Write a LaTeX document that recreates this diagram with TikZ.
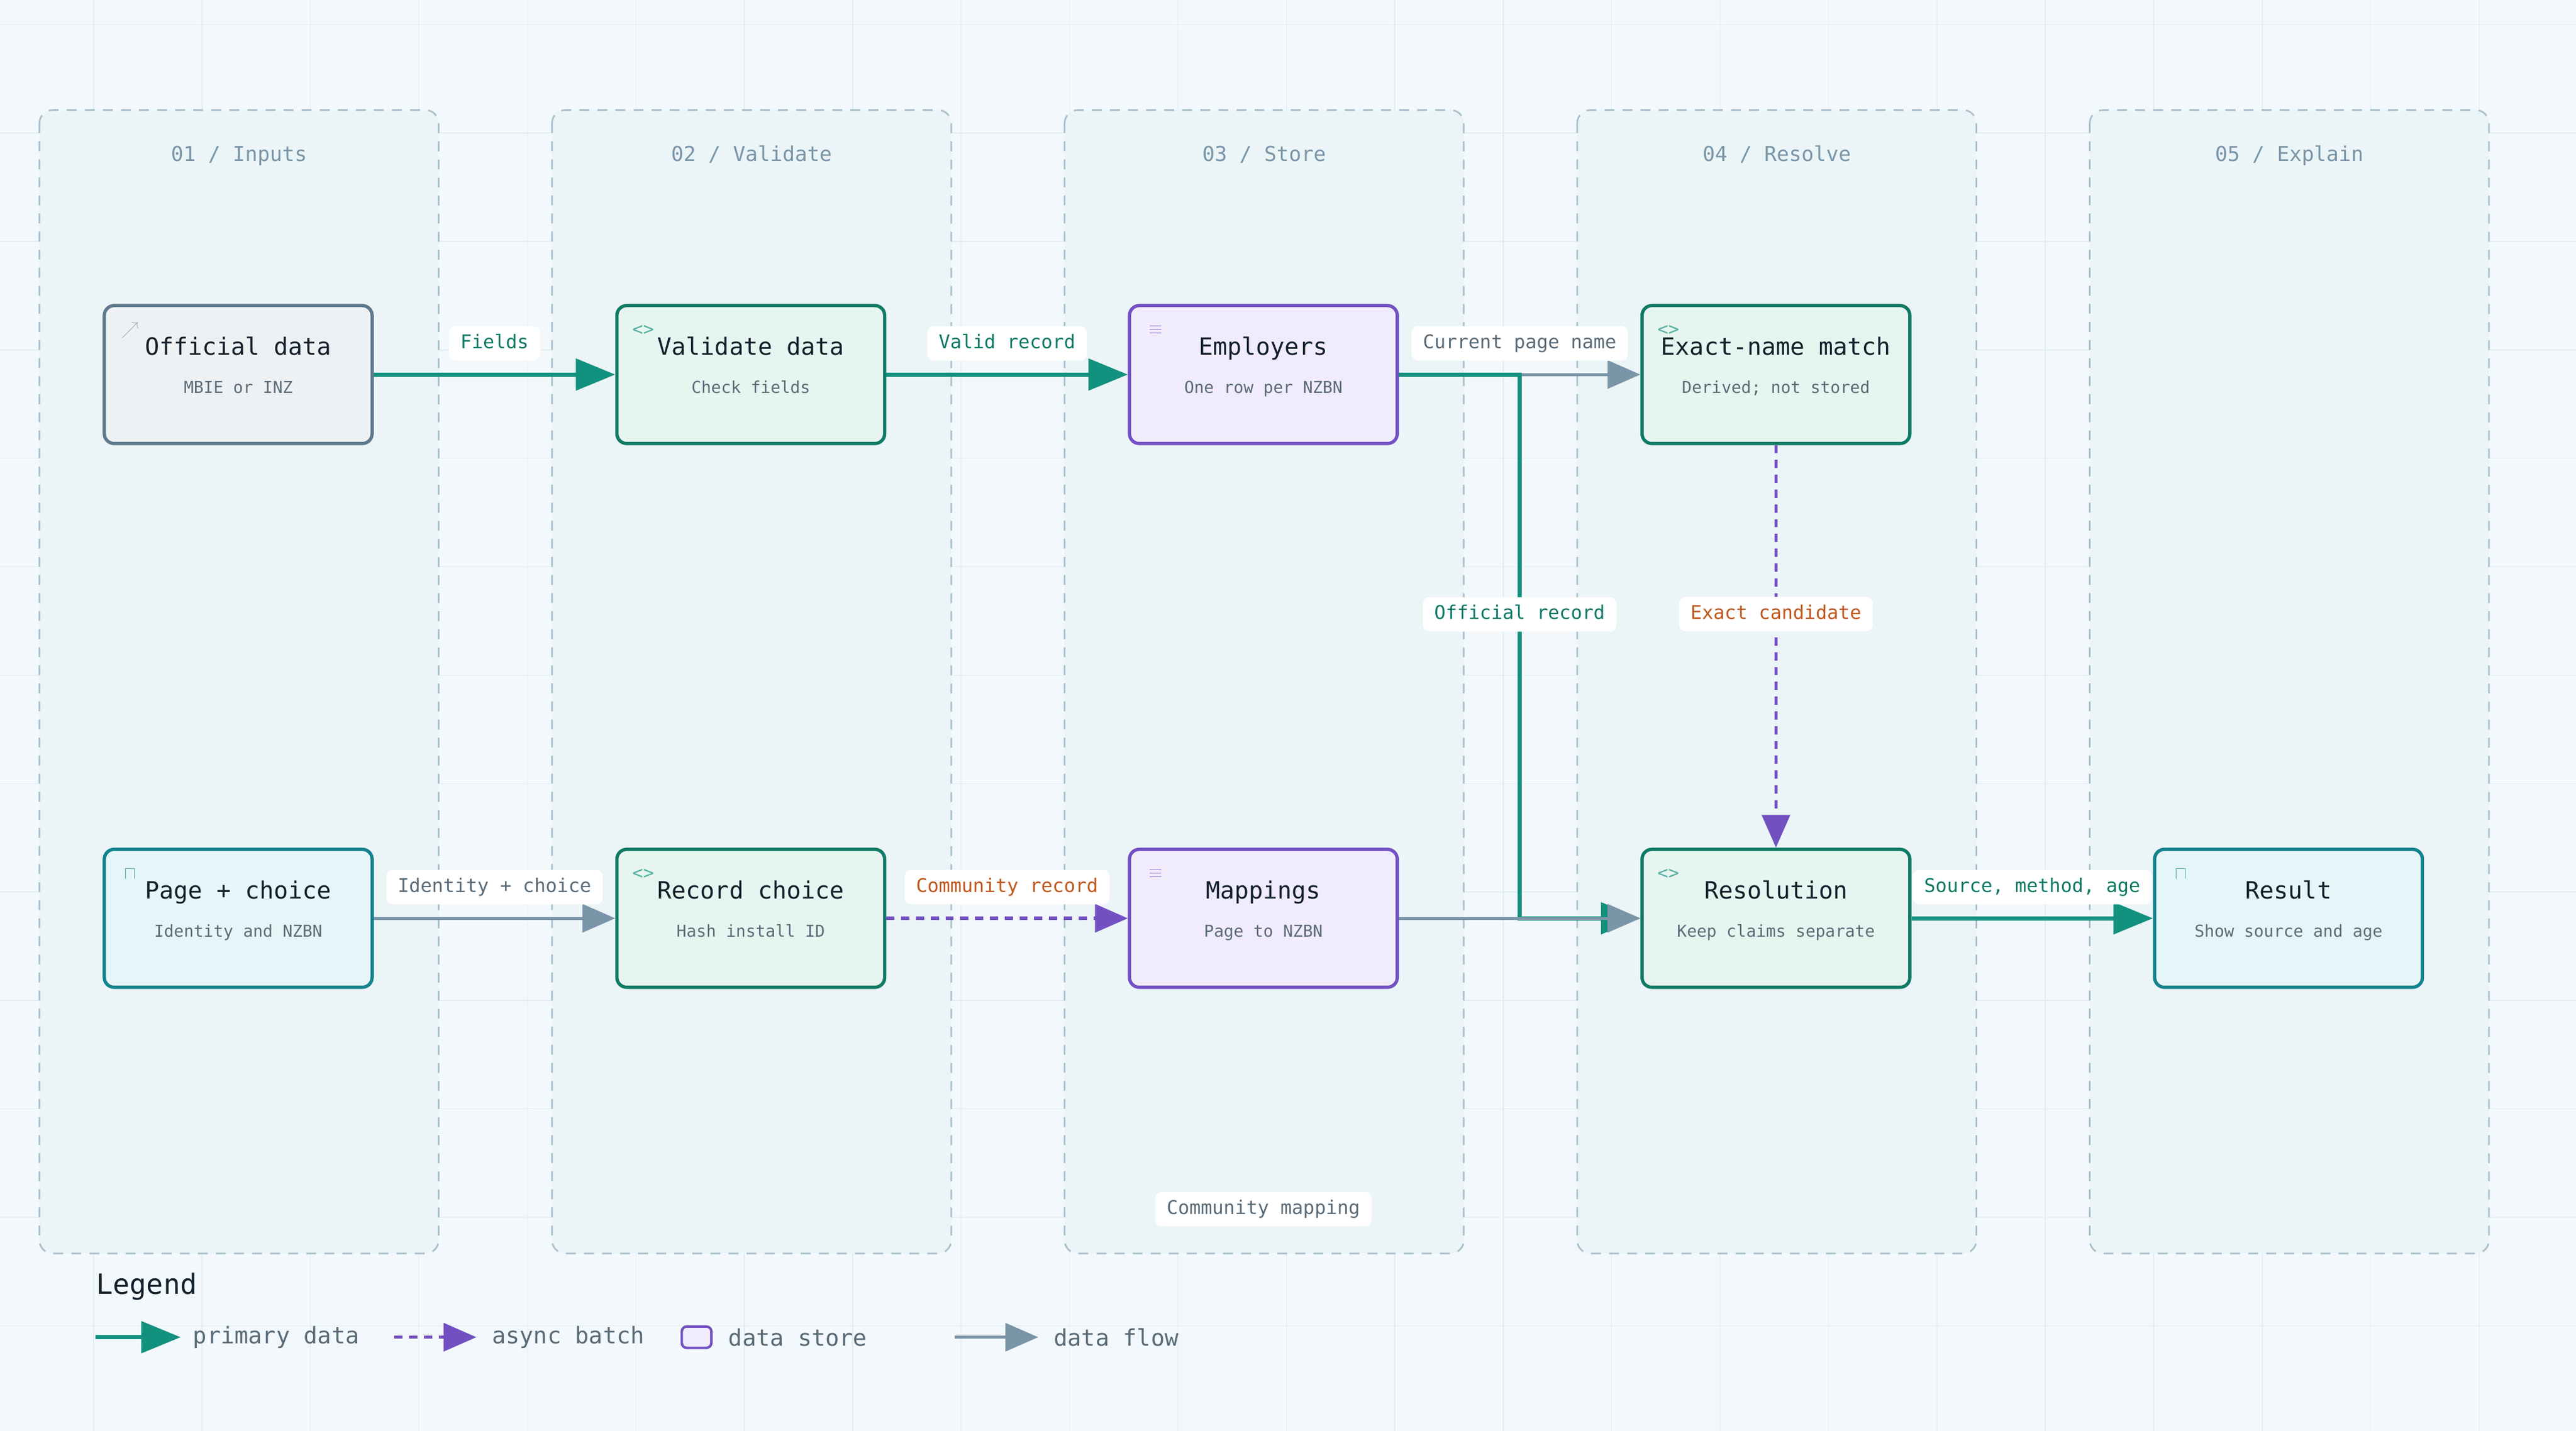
\documentclass[tikz,border=0pt]{standalone}
\usepackage{fontspec}
\setmainfont{DejaVu Sans Mono}
\usetikzlibrary{arrows.meta,positioning}
\definecolor{bgc}{HTML}{F2F8FB}
\definecolor{gridc}{HTML}{E2EDF2}
\definecolor{lanef}{HTML}{EBF4F7}
\definecolor{laned}{HTML}{A9C0CC}
\definecolor{inkc}{HTML}{13202B}
\definecolor{subc}{HTML}{5A6B78}
\definecolor{tealc}{HTML}{13917F}
\definecolor{teald}{HTML}{0F7A65}
\definecolor{tealf}{HTML}{E6F5EF}
\definecolor{purc}{HTML}{7350C2}
\definecolor{purf}{HTML}{F1ECFB}
\definecolor{grayc}{HTML}{7A95A8}
\definecolor{grayd}{HTML}{5F7A8C}
\definecolor{grayf}{HTML}{EEF1F4}
\definecolor{cyand}{HTML}{13838F}
\definecolor{cyanf}{HTML}{E6F6F8}
\definecolor{orc}{HTML}{C0581E}
\tikzset{
  lane/.style={draw=laned,fill=lanef,dashed,dash pattern=on 6pt off 5pt,line width=1pt,rounded corners=8pt},
  box/.style={draw,line width=2pt,rounded corners=6pt,minimum width=163pt,minimum height=84pt},
  process/.style={box,draw=teald,fill=tealf},
  source/.style={box,draw=grayd,fill=grayf},
  store/.style={box,draw=purc,fill=purf},
  screen/.style={box,draw=cyand,fill=cyanf},
  ttl/.style={font=\fontsize{14.5}{16}\selectfont,text=inkc,anchor=base},
  sub/.style={font=\fontsize{10}{12}\selectfont,text=subc,anchor=base},
  lbl/.style={fill=white,rounded corners=4pt,inner xsep=7pt,inner ysep=5pt,text height=8.5pt,text depth=2.5pt,font=\fontsize{11.5}{13}\selectfont},
  primary/.style={draw=tealc,line width=2.5pt,-{Triangle[length=24pt,width=19pt]}},
  batch/.style={draw=purc,line width=2pt,dash pattern=on 5pt off 4pt,-{Triangle[length=20pt,width=17pt]}},
  flow/.style={draw=grayc,line width=1.8pt,-{Triangle[length=20pt,width=17pt]}},
  icon/.style={font=\fontsize{11}{12}\selectfont}
}
\begin{document}
\begin{tikzpicture}[x=1pt,y=-1pt]
\fill[bgc] (0,0) rectangle (1568,871);
\useasboundingbox (0,0) rectangle (1568,871);
\foreach \gx in {57,123,...,1568} \draw[gridc,line width=0.5pt] (\gx,0) -- (\gx,871);
\foreach \gy in {15,81,...,871} \draw[gridc,line width=0.5pt] (0,\gy) -- (1568,\gy);

% lanes
\foreach \lx/\lname in {24/{01 / Inputs},336/{02 / Validate},648/{03 / Store},960/{04 / Resolve},1272/{05 / Explain}}{
  \draw[lane] (\lx,67) rectangle ++(243,696);
  \node[font=\fontsize{12.5}{14}\selectfont,text=grayc,anchor=base] at (\lx+121.5,98) {\lname};
}

% nodes
\node[source] (official) at (145,228) {};
\node[process] (validate) at (457,228) {};
\node[store] (employers) at (769,228) {};
\node[process] (exact) at (1081,228) {};
\node[screen] (page) at (145,559) {};
\node[process] (record) at (457,559) {};
\node[store] (mappings) at (769,559) {};
\node[process] (resolution) at (1081,559) {};
\node[screen] (result) at (1393,559) {};

\foreach \n/\t/\s/\ic/\cc in {official/Official data/MBIE or INZ/$\nearrow$/grayc,
  validate/Validate data/Check fields/<>/tealc,
  employers/Employers/One row per NZBN/$\equiv$/purc,
  exact/Exact-name match/Derived; not stored/<>/tealc,
  page/Page + choice/Identity and NZBN/$\sqcap$/cyand,
  record/Record choice/Hash install ID/<>/tealc,
  mappings/Mappings/Page to NZBN/$\equiv$/purc,
  resolution/Resolution/Keep claims separate/<>/tealc,
  result/Result/Show source and age/$\sqcap$/cyand}{
  \node[ttl] at ([yshift=12pt]\n.center) {\t};
  \node[sub] at ([yshift=-11.5pt]\n.center) {\s};
  \node[icon,text=\cc!70] at ([xshift=17pt,yshift=-16pt]\n.north west) {\ic};
}

% connectors
\coordinate (bend1) at (925,228);
\coordinate (bend2) at (925,559);
\draw[primary] (official) -- (validate) node[lbl,text=teald,midway,yshift=19pt] {Fields};
\draw[primary] (validate) -- (employers) node[lbl,text=teald,midway,yshift=19pt] {Valid record};
\draw[flow] (employers) -- (exact) node[lbl,text=subc,midway,yshift=19pt] {Current page name};
\draw[primary] (employers.east) -- (bend1) -- (bend2) -- (resolution.west);
\node[lbl,text=teald] at (925,374) {Official record};
\draw[flow] (mappings) -- (resolution);
\draw[batch] (exact) -- (resolution) node[lbl,text=orc,pos=0.42] {Exact candidate};
\draw[flow] (page) -- (record) node[lbl,text=subc,midway,yshift=19pt] {Identity + choice};
\draw[batch] (record) -- (mappings) node[lbl,text=orc,midway,yshift=19pt] {Community record};
\draw[primary] (resolution) -- (result) node[lbl,text=teald,midway,yshift=19pt] {Source, method, age};
\node[lbl,text=subc] (community) at (769,736) {Community mapping};

% legend
\node[anchor=west,font=\fontsize{17}{18}\selectfont,text=inkc] (legend) at (55,783) {Legend};
\coordinate (l1a) at (58,814); \coordinate (l1b) at (110,814);
\draw[primary] (l1a) -- (l1b);
\node[anchor=west,font=\fontsize{14}{15}\selectfont,text=subc] (lprim) at (114,814) {primary data};
\coordinate (l2a) at (240,814); \coordinate (l2b) at (290,814);
\draw[batch] (l2a) -- (l2b);
\node[anchor=west,font=\fontsize{14}{15}\selectfont,text=subc] (lbatch) at (296,814) {async batch};
\node[draw=purc,fill=purf,line width=1.5pt,rounded corners=3pt,minimum width=18pt,minimum height=13pt,inner sep=0pt] (lstore) at (424,814) {};
\node[anchor=west,font=\fontsize{14}{15}\selectfont,text=subc] (lstoret) at (440,814) {data store};
\coordinate (l3a) at (581,814); \coordinate (l3b) at (632,814);
\draw[flow] (l3a) -- (l3b);
\node[anchor=west,font=\fontsize{14}{15}\selectfont,text=subc] (lflow) at (638,814) {data flow};
\end{tikzpicture}
\end{document}
